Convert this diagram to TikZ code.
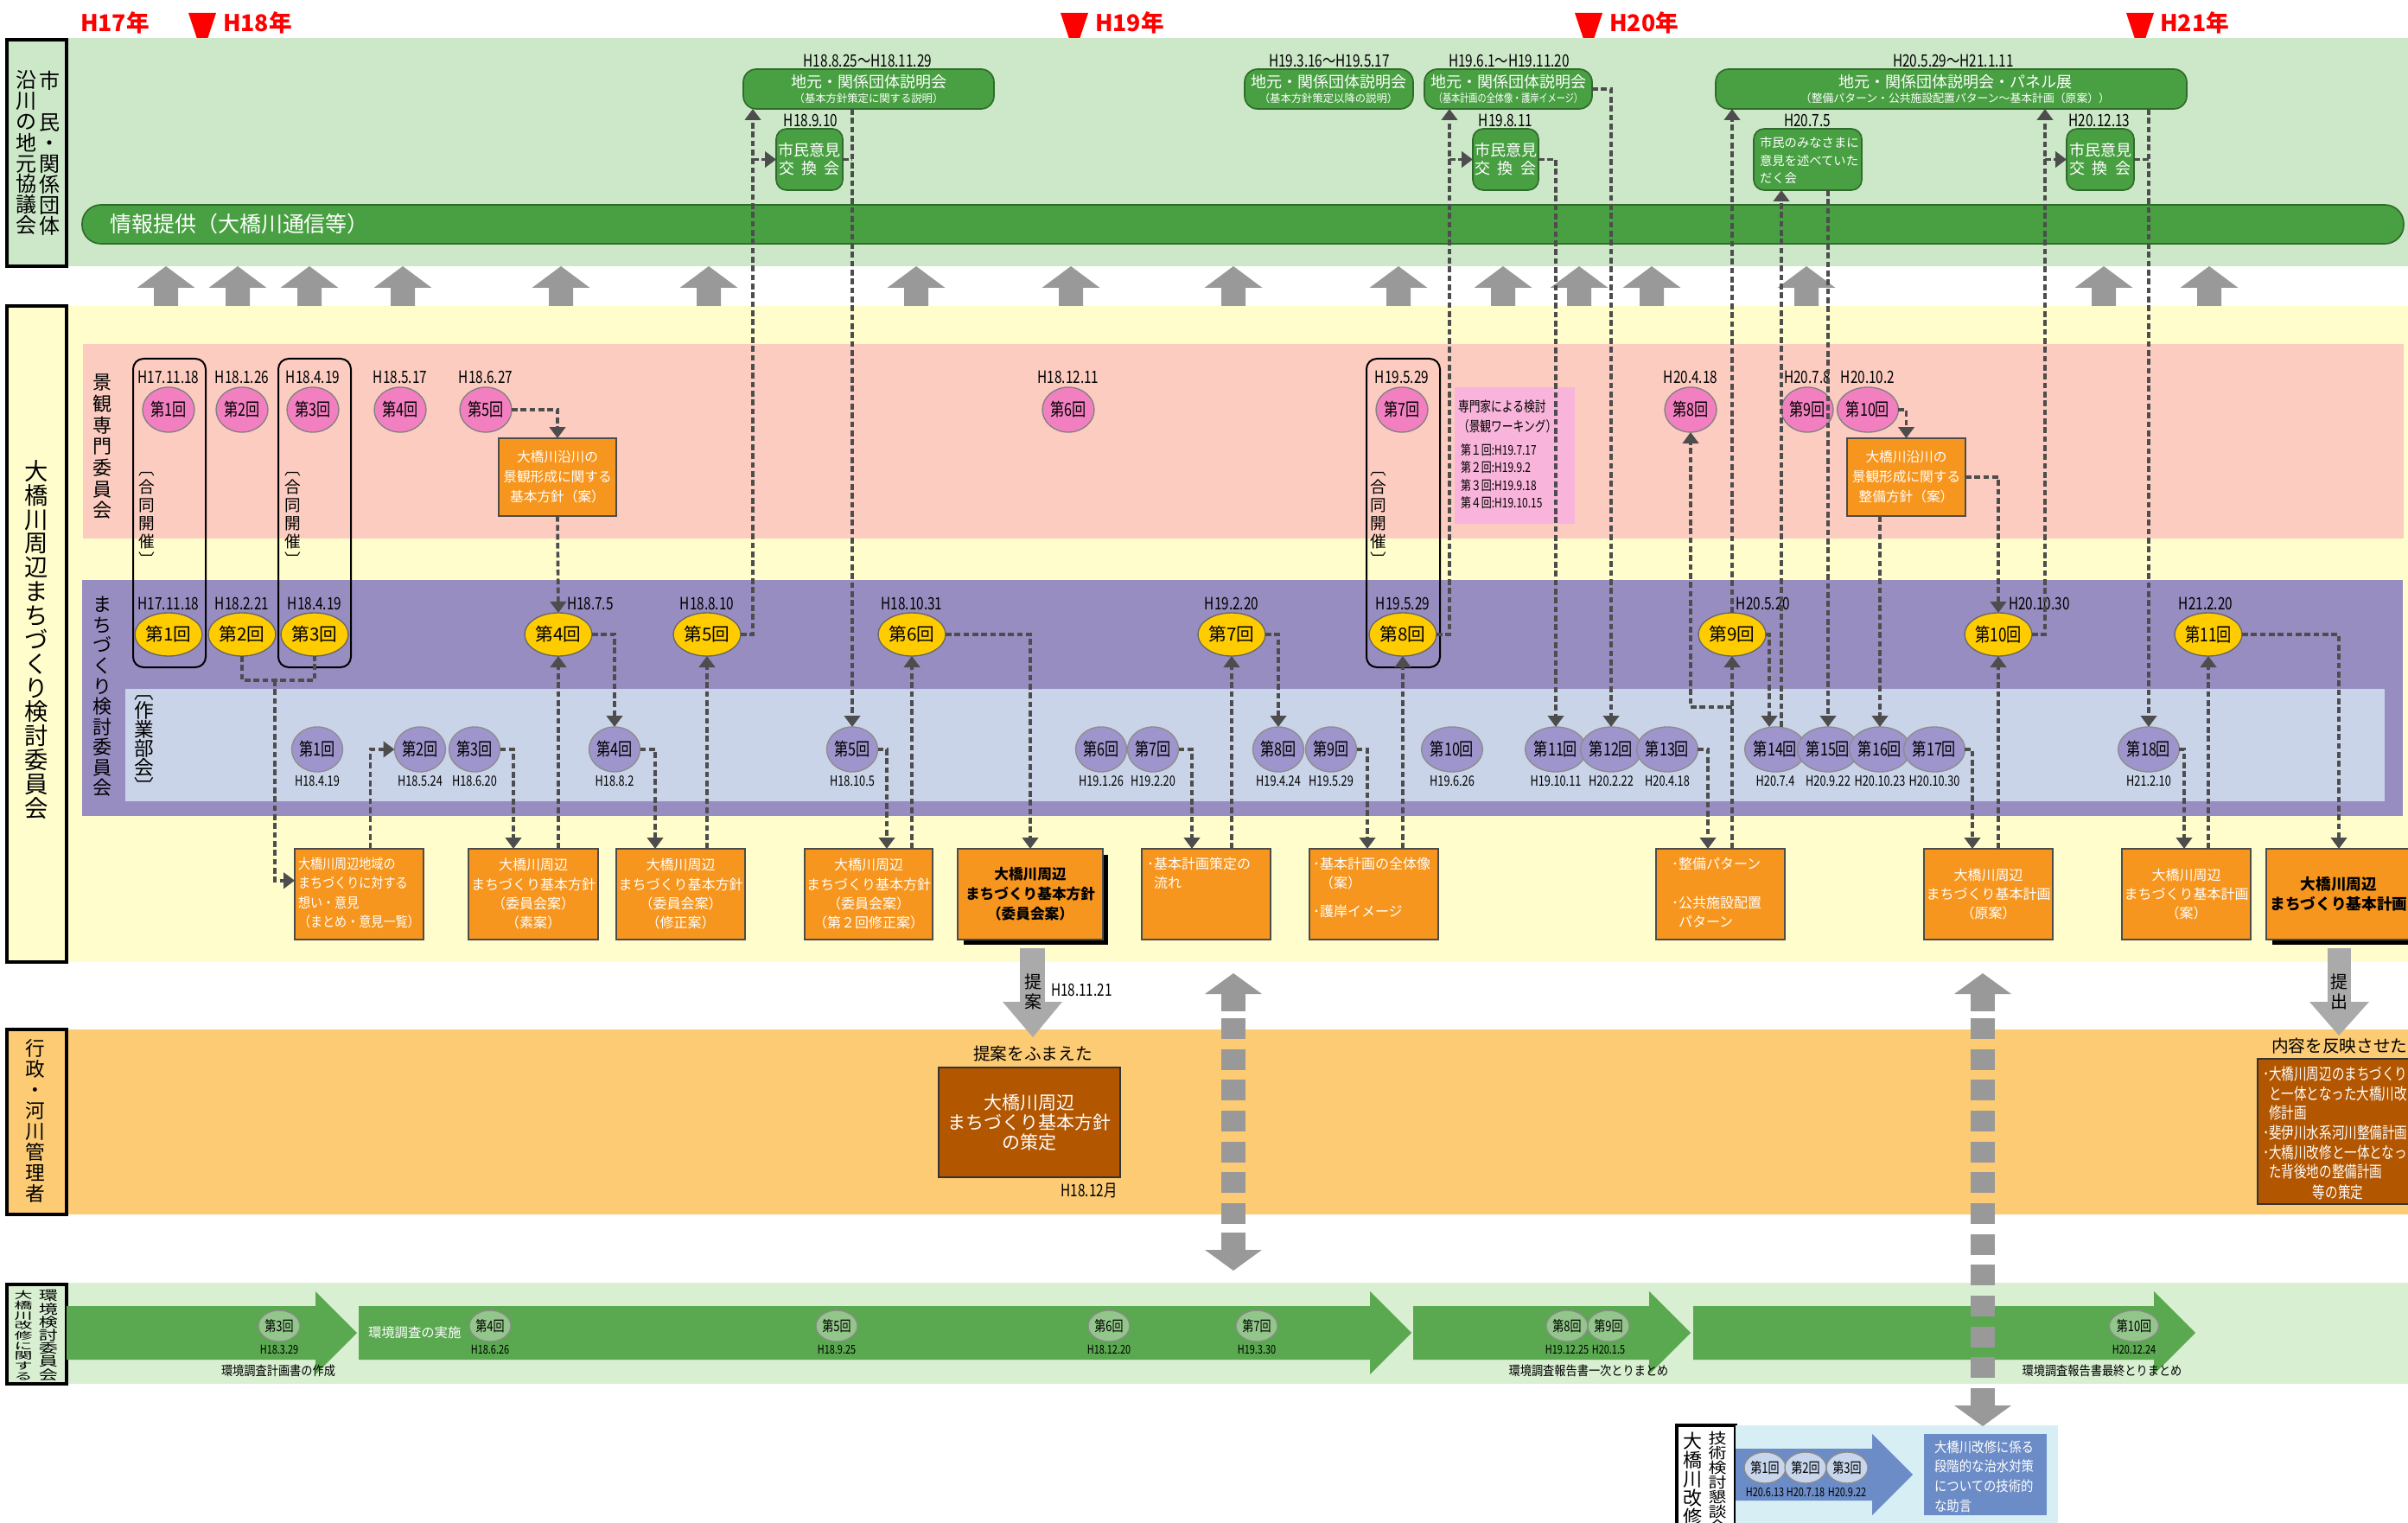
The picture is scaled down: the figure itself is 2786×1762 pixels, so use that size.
\documentclass[tikz,border=0pt]{standalone}
\usepackage{fontspec}
\usepackage{graphicx}
\usetikzlibrary{calc,arrows.meta,shapes.geometric}
\newfontfamily\jp{Noto Sans CJK JP}
\newfontfamily\jpc[FakeStretch=0.78]{Noto Sans CJK JP}
\newfontfamily\jpn[FakeStretch=0.88]{Noto Sans CJK JP}
\newcommand\setfz[2]{\fontsize{#1}{#2}\selectfont}
\lineskiplimit=-20pt
\definecolor{topgreen}{HTML}{CCE8C8}
\definecolor{dkgreen}{HTML}{48A042}
\definecolor{dkgreenb}{HTML}{2F6B2B}
\definecolor{ylbg}{HTML}{FFFDCC}
\definecolor{pinkband}{HTML}{FCCCC0}
\definecolor{pinkc}{HTML}{F280C0}
\definecolor{purband}{HTML}{978DC1}
\definecolor{wgband}{HTML}{CAD4E8}
\definecolor{wgc}{HTML}{9D95CB}
\definecolor{yel}{HTML}{FFCC00}
\definecolor{orng}{HTML}{F7961E}
\definecolor{admbg}{HTML}{FCCB74}
\definecolor{brn}{HTML}{B25600}
\definecolor{envbg}{HTML}{D8EFD2}
\definecolor{envband}{HTML}{5AA850}
\definecolor{envc}{HTML}{93C68A}
\definecolor{techbg}{HTML}{D7EEF5}
\definecolor{techband}{HTML}{6B8CC7}
\definecolor{techc}{HTML}{C7D6EC}
\definecolor{arrgray}{HTML}{999999}
\definecolor{propgray}{HTML}{AAAAAA}
\definecolor{lnk}{HTML}{4D4D4D}
\definecolor{wkpink}{HTML}{F8B4DA}
\newcommand\bx[7]{\node[#6, minimum width={(#4-#2)*0.3pt}, minimum height={(#5-#3)*0.3pt}] (#1) at ({(#2+#4)/2},{(#3+#5)/2}) {#7};}
\tikzset{
 box/.style={rectangle, inner sep=0pt, outer sep=0pt},
 hdr/.style={box, draw=black, line width=1.2pt},
 gbox/.style={box, draw=dkgreenb, fill=dkgreen, line width=0.5pt, rounded corners=4.5pt},
 exbox/.style={gbox, rounded corners=3.6pt, text=white, align=center, font=\jp\setfz{5.4}{6.3}},
 obox/.style={box, draw=black!70, fill=orng, line width=0.45pt, text=white, align=center, font=\jp\setfz{4.8}{6.7}},
 kbox/.style={obox, font=\jp\setfz{4.7}{6.9}},
 bbox/.style={obox, text=black, font=\jp\bfseries\setfz{5.3}{6.9}},
 brbox/.style={box, draw=black!80, fill=brn, line width=0.45pt, text=white, align=center, font=\jp\setfz{6.3}{6.9}},
 lbl/.style={inner sep=0pt, outer sep=0pt},
 otxt/.style={lbl, anchor=north west, align=left, text=white, font=\jp\setfz{4.8}{6.7}},
 dt/.style={lbl, font=\jpc\setfz{5.9}{5.9}},
 dts/.style={lbl, font=\jpc\setfz{4.9}{4.9}},
 dte/.style={lbl, font=\jpc\setfz{4.2}{4.2}},
 yr/.style={lbl, text=red, font=\jp\bfseries\setfz{8}{8}},
 circ/.style={ellipse, inner sep=0pt, outer sep=0pt, line width=0.4pt},
 pc/.style={circ, draw=black!50, fill=pinkc, minimum width=18pt, minimum height=15.6pt, font=\jpc\setfz{6.2}{6.2}},
 yc/.style={circ, draw=black!60, fill=yel, minimum width=23.4pt, minimum height=15pt, font=\jp\setfz{6.2}{6.2}},
 ycc/.style={yc, font=\jpc\setfz{6.6}{6.6}},
 wc/.style={circ, draw=black!45, fill=wgc, minimum width=17.7pt, minimum height=15.6pt, font=\jpc\setfz{6.2}{6.2}},
 ec/.style={circ, draw=black!45, fill=envc, minimum width=14.4pt, minimum height=10.8pt, font=\jpc\setfz{5}{5}},
 tcc/.style={ec, fill=techc},
 vt/.style={lbl, align=center},
 dl/.style={draw=lnk, line width=1.1pt, dash pattern=on 2pt off 1.1pt},
 dla/.style={dl, -{Triangle[width=5.5pt,length=3.9pt]}},
}
\begin{document}
\begin{tikzpicture}[x=0.3pt,y=-0.3pt]
\useasboundingbox (0,0) rectangle (2786,1762);
\fill[white] (0,0) rectangle (2786,1762);

% ---------- year markers
\foreach \cx in {234,1243,1838,2476} \fill[red] (\cx-16,15) -- (\cx+16,15) -- (\cx,63) -- cycle;
\node[yr] (y17) at (133,26) {H17年};
\node[yr] (y18) at (298,26) {H18年};
\node[yr] (y19) at (1307,26) {H19年};
\node[yr] (y20) at (1902,26) {H20年};
\node[yr] (y21) at (2539,26) {H21年};

% ---------- top section
\fill[topgreen] (77,44) rectangle (2786,308);
\bx{hdrA}{8}{46}{77}{308}{hdr, fill=topgreen}{}
\node[vt, font=\jp\setfz{7.2}{7.2}] (hdrAr) at (57,177) {市\\　\\民\\・\\関\\係\\団\\体};
\node[vt, font=\jp\setfz{7.2}{7.2}] (hdrAl) at (30,177) {沿\\川\\の\\地\\元\\協\\議\\会};
\bx{info}{95}{237}{2781}{282}{box, draw=dkgreenb, fill=dkgreen, line width=0.5pt, rounded corners=6.5pt}{}
\node[lbl, anchor=west, text=white, font=\jp\setfz{7.5}{7.5}] (infot) at (127,259) {情報提供（大橋川通信等）};

\bx{setA}{860}{80}{1150}{126}{gbox}{}
\node[lbl,text=white,font=\jp\setfz{5.4}{5.4}] (setAt) at (1005,95) {地元・関係団体説明会};
\node[lbl,text=white,font=\jp\setfz{3.7}{3.7}] (setAs) at (1005,114) {（基本方針策定に関する説明）};
\node[dt] (setAd) at (1004,70) {H18.8.25〜H18.11.29};
\bx{setB}{1440}{80}{1635}{126}{gbox}{}
\node[lbl,text=white,font=\jp\setfz{5.4}{5.4}] (setBt) at (1537,95) {地元・関係団体説明会};
\node[lbl,text=white,font=\jp\setfz{3.7}{3.7}] (setBs) at (1537,114) {（基本方針策定以降の説明）};
\node[dt] (setBd) at (1538,70) {H19.3.16〜H19.5.17};
\bx{setC}{1648}{80}{1842}{126}{gbox}{}
\node[lbl,text=white,font=\jp\setfz{5.4}{5.4}] (setCt) at (1745,95) {地元・関係団体説明会};
\node[lbl,text=white,font=\jpc\setfz{3.9}{3.9}] (setCs) at (1745,114) {（基本計画の全体像・護岸イメージ）};
\node[dt] (setCd) at (1746,70) {H19.6.1〜H19.11.20};
\bx{setD}{1985}{80}{2530}{126}{gbox}{}
\node[lbl,text=white,font=\jp\setfz{5.4}{5.4}] (setDt) at (2262,95) {地元・関係団体説明会・パネル展};
\node[lbl,text=white,font=\jp\setfz{3.85}{3.85}] (setDs) at (2262,114) {（整備パターン・公共施設配置パターン〜基本計画（原案））};
\node[dt] (setDd) at (2260,70) {H20.5.29〜H21.1.11};

\bx{ex1}{898}{149}{975}{220}{exbox}{市民意見\\交\hspace{0.45em}換\hspace{0.45em}会}
\node[dt] (ex1d) at (938,139) {H18.9.10};
\bx{ex2}{1704}{149}{1780}{220}{exbox}{市民意見\\交\hspace{0.45em}換\hspace{0.45em}会}
\node[dt] (ex2d) at (1742,139) {H19.8.11};
\bx{ex3}{2391}{149}{2469}{220}{exbox}{市民意見\\交\hspace{0.45em}換\hspace{0.45em}会}
\node[dt] (ex3d) at (2429,139) {H20.12.13};
\bx{mina}{2029}{149}{2154}{220}{gbox, rounded corners=3.6pt}{}
\node[lbl, anchor=west, align=left, text=white, font=\jp\setfz{4.3}{6.15}] (minat) at (2036,186) {市民のみなさまに\\意見を述べていた\\だく会};
\node[dt] (minad) at (2091,139) {H20.7.5};

% gray up arrows
\foreach \cx in {192,275,358,466,649,820,1060,1239,1427,1618,1739,1827,1911,2090,2434,2556}
 \fill[arrgray] (\cx-33.5,333) -- (\cx,308) -- (\cx+33.5,333) -- (\cx+14,333) -- (\cx+14,354) -- (\cx-14,354) -- (\cx-14,333) -- cycle;

% ---------- main committee section
\fill[ylbg] (77,354) rectangle (2786,1113);
\bx{hdrB}{8}{354}{77}{1113}{hdr, fill=ylbg}{}
\node[vt, font=\jp\setfz{8.2}{8.36}] (hdrBt) at (42,740) {大\\橋\\川\\周\\辺\\ま\\ち\\づ\\く\\り\\検\\討\\委\\員\\会};
\fill[pinkband] (96,398) rectangle (2781,623);
\node[vt, font=\jp\setfz{6.6}{7.4}] (ktit) at (118,517) {景\\観\\専\\門\\委\\員\\会};
\fill[purband] (95,671) rectangle (2780,944);
\node[vt, font=\jp\setfz{6.6}{7.07}] (mtit) at (118,806) {ま\\ち\\づ\\く\\り\\検\\討\\委\\員\\会};
\fill[wgband] (145,797) rectangle (2759,927);
\node[vt, font=\jp\setfz{6.8}{6.6}] (wtit) at (167,862) {︹\\作\\業\\部\\会\\︺};

\bx{jb1}{154}{415}{238}{772}{box, draw=black, line width=0.6pt, rounded corners=3.6pt}{}
\bx{jb2}{322}{415}{406}{772}{box, draw=black, line width=0.6pt, rounded corners=3.6pt}{}
\bx{jb3}{1581}{415}{1666}{772}{box, draw=black, line width=0.6pt, rounded corners=3.6pt}{}
\node[vt, font=\jp\setfz{5.6}{6.3}] (jb1t) at (170,600) {︹\\合\\同\\開\\催\\︺};
\node[vt, font=\jp\setfz{5.6}{6.3}] (jb2t) at (339,600) {︹\\合\\同\\開\\催\\︺};
\node[vt, font=\jp\setfz{5.6}{6.3}] (jb3t) at (1595,600) {︹\\合\\同\\開\\催\\︺};

\bx{wk}{1683}{448}{1822}{606}{box, fill=wkpink}{}
\node[lbl, anchor=west, align=left, font=\jpc\setfz{4.9}{6.9}] (wk1) at (1687,482) {専門家による検討\\（景観ワーキング）};
\node[lbl, anchor=west, align=left, font=\jpc\setfz{4.6}{6.15}] (wk2) at (1690,551) {第１回:H19.7.17\\第２回:H19.9.2\\第３回:H19.9.18\\第４回:H19.10.15};

% pink circles
\foreach \i/\cx/\dd in {1/195/H17.11.18, 2/280/H18.1.26, 3/362/H18.4.19, 4/463/H18.5.17, 5/562/H18.6.27, 6/1236/H18.12.11, 7/1622/H19.5.29, 8/1956/H20.4.18, 9/2091/H20.7.8, 10/2161/H20.10.2}
 {\node[pc] (k\i) at (\cx,474) {第\i 回}; \node[dt] (dk\i) at (\cx,436) {\dd};}

% yellow ellipses
\foreach \i/\cx/\dd in {1/195/H17.11.18, 2/280/H18.2.21, 3/364/H18.4.19, 5/818/H18.8.10, 6/1055/H18.10.31, 7/1425/H19.2.20, 8/1623/H19.5.29}
 {\node[yc] (m\i) at (\cx,734) {第\i 回}; \node[dt] (dm\i) at (\cx,698) {\dd};}
\node[yc] (m4) at (646,734) {第4回};
\node[dt, anchor=west] (dm4) at (656,698) {H18.7.5};
\node[yc] (m9) at (2004,734) {第9回};
\node[dt] (dm9) at (2040,698) {H20.5.20};
\node[ycc] (m10) at (2312,734) {第10回};
\node[dt, anchor=west] (dm10) at (2324,698) {H20.10.30};
\node[ycc] (m11) at (2555,734) {第11回};
\node[dt] (dm11) at (2552,698) {H21.2.20};

% working group circles
\foreach \i/\cx/\dd in {1/367/H18.4.19, 2/486/H18.5.24, 3/549/H18.6.20, 4/711/H18.8.2, 5/986/H18.10.5, 6/1274/H19.1.26, 7/1334/H19.2.20, 8/1479/H19.4.24, 9/1540/H19.5.29, 10/1680/H19.6.26, 11/1800/H19.10.11, 12/1864/H20.2.22, 13/1929/H20.4.18, 14/2054/H20.7.4, 15/2115/H20.9.22, 16/2175/H20.10.23, 17/2238/H20.10.30, 18/2486/H21.2.10}
 {\node[wc] (w\i) at (\cx,867) {第\i 回}; \node[dts] (dw\i) at (\cx,904) {\dd};}

% orange boxes
\bx{kb1}{577}{507}{713}{597}{kbox}{大橋川沿川の\\景観形成に関する\\基本方針（案）}
\bx{kb2}{2137}{507}{2274}{597}{kbox}{大橋川沿川の\\景観形成に関する\\整備方針（案）}
\bx{o1}{341}{982}{490}{1087}{obox}{}
\node[otxt, font=\jpn\setfz{4.8}{6.7}] (o1t) at (345,992) {大橋川周辺地域の\\まちづくりに対する\\想い・意見\\（まとめ・意見一覧）};
\bx{o2}{542}{982}{692}{1087}{obox}{大橋川周辺\\まちづくり基本方針\\（委員会案）\\（素案）}
\bx{o3}{713}{982}{862}{1087}{obox}{大橋川周辺\\まちづくり基本方針\\（委員会案）\\（修正案）}
\bx{o4}{931}{982}{1079}{1087}{obox}{大橋川周辺\\まちづくり基本方針\\（委員会案）\\（第２回修正案）}
\fill[black] (1115,989) rectangle (1282,1093);
\bx{o5}{1108}{982}{1276}{1087}{bbox, font=\jp\bfseries\setfz{5.0}{6.9}}{大橋川周辺\\まちづくり基本方針\\（委員会案）}
\bx{o6}{1321}{982}{1470}{1087}{obox}{}
\node[otxt] (o6t) at (1327,992) {･基本計画策定の\\\phantom{･}流れ};
\bx{o7}{1515}{982}{1664}{1087}{obox}{}
\node[otxt] (o7t) at (1519,992) {･基本計画の全体像\\\phantom{･}（案）\\[3pt]･護岸イメージ};
\bx{o8}{1916}{982}{2065}{1087}{obox}{}
\node[otxt] (o8t) at (1934,992) {･整備パターン\\[6.7pt]･公共施設配置\\\phantom{･}パターン};
\bx{o10}{2226}{982}{2375}{1087}{obox}{大橋川周辺\\まちづくり基本計画\\（原案）}
\bx{o11}{2455}{982}{2604}{1087}{obox}{大橋川周辺\\まちづくり基本計画\\（案）}
\fill[black] (2629,989) rectangle (2800,1093);
\bx{o12}{2622}{982}{2790}{1087}{bbox}{大橋川周辺\\まちづくり基本計画}

% ---------- dashed connectors
\draw[dla] (k5.east) -| (kb1.north);
\draw[dla] (kb1.south) -- (m4.north);
\draw[dl] (m2.south) -- ++(0,28) -| (m3.south);
\draw[dla] ($(m2.south)!0.45!(m3.south)+(0,28)$) |- ($(o1.north west)!0.35!(o1.south west)$);
\draw[dla] ($(o1.north)+(13,0)$) |- (w2.west);
\draw[dla] (w3.east) -| ($(o2.north)+(-23,0)$);
\draw[dla] (o2.north -| m4.south) -- (m4.south);
\draw[dla] (m4.east) -| (w4.north);
\draw[dla] (w4.east) -| ($(o3.north)+(-29.5,0)$);
\draw[dla] (o3.north -| m5.south) -- (m5.south);
\draw[dla] (m5.east) -- ++(14,0) coordinate (t5) -- (t5 |- setA.south);
\draw[dla] (t5 |- ex1.west) -- (ex1.west);
\draw[dl] (ex1.east) -- (ex1.east -| w5.north);
\draw[dla] (setA.south -| w5.north) -- (w5.north);
\draw[dla] (w5.east) -| ($(o4.north)+(21,0)$);
\draw[dla] (o4.north -| m6.south) -- (m6.south);
\draw[dla] (m6.east) -| (o5.north);
\draw[dla] (w7.east) -| ($(o6.north)+(-16.5,0)$);
\draw[dla] (o6.north -| m7.south) -- (m7.south);
\draw[dla] (m7.east) -| (w8.north);
\draw[dla] (w9.east) -| ($(o7.north)+(-7.5,0)$);
\draw[dla] (o7.north -| m8.south) -- (m8.south);
\draw[dla] (m8.east) -- ++(15,0) coordinate (t8) -- (t8 |- setC.south);
\draw[dla] (t8 |- ex2.west) -- (ex2.west);
\draw[dla] (ex2.east) -| (w11.north);
\draw[dla] (setC.east) -| (w12.north);
\draw[dla] (w13.east) -| ($(o8.north)+(-14.5,0)$);
\draw[dla] (o8.north -| m9.south) -- (m9.south);
\draw[dla] ($(m9.south)+(0,59)$) -| (k8.south);
\draw[dla] (m9.north) -- (m9.north |- setD.south);
\draw[dla] (m9.east) -| ($(w14.north)+(-7,0)$);
\coordinate (w14r) at ($(w14.north)+(7,0)$);
\draw[dla] (w14r) -- (w14r |- mina.south);
\draw[dla] (mina.south -| w15.north) -- (w15.north);
\draw[dla] (k10.east) -| (kb2.north);
\draw[dla] (kb2.east) -| (m10.north);
\draw[dla] (kb2.south -| w16.north) -- (w16.north);
\draw[dla] (w17.east) -| ($(o10.north)+(-18.5,0)$);
\draw[dla] (o10.north -| m10.south) -- (m10.south);
\draw[dla] (m10.east) -- ++(15,0) coordinate (t10) -- (t10 |- setD.south);
\draw[dla] (t10 |- ex3.west) -- (ex3.west);
\draw[dl] (ex3.east) -- (ex3.east -| w18.north);
\draw[dla] (setD.south -| w18.north) -- (w18.north);
\draw[dla] (w18.east) -| ($(o11.north)+(-2.5,0)$);
\draw[dla] (o11.north -| m11.south) -- (m11.south);
\draw[dla] (m11.east) -| (o12.north);

% ---------- administration section
\fill[admbg] (77,1191) rectangle (2786,1405);
\bx{hdrC}{8}{1191}{77}{1405}{hdr, fill=admbg}{}
\node[vt, font=\jp\setfz{6.8}{7.2}] (hdrCt) at (41,1297) {行\\政\\・\\河\\川\\管\\理\\者};
\node[lbl, font=\jp\setfz{5.9}{5.9}] (bb1h) at (1195,1219) {提案をふまえた};
\bx{bb1}{1086}{1235}{1296}{1362}{brbox}{大橋川周辺\\まちづくり基本方針\\の策定}
\node[dt] (bb1d) at (1260,1378) {H18.12月};
\node[lbl, anchor=west, font=\jp\setfz{5.9}{5.9}] (bb2h) at (2628,1210) {内容を反映させた};
\bx{bb2}{2612}{1225}{2800}{1393}{brbox}{}
\node[lbl, anchor=west, align=left, text=white, font=\jpc\setfz{5.6}{6.8}] (bb2t) at (2618,1299) {･大橋川周辺のまちづくり\\\phantom{･}と一体となった大橋川改\\\phantom{･}修計画\\･斐伊川水系河川整備計画\\･大橋川改修と一体となっ\\\phantom{･}た背後地の整備計画};
\node[lbl, text=white, font=\jpc\setfz{5.6}{5.6}] (bb2e) at (2705,1379) {等の策定};

% proposal / submission arrows
\fill[propgray] (1180,1097) rectangle (1209,1160);
\fill[propgray] (1160,1159) -- (1229,1159) -- (1195,1200) -- cycle;
\node[vt, font=\jp\setfz{6}{6.9}] (teian) at (1195,1147) {提\\案};
\node[dt, anchor=west] (teiand) at (1216,1145) {H18.11.21};
\fill[propgray] (2693,1097) rectangle (2720,1160);
\fill[propgray] (2672,1159) -- (2741,1159) -- (2706,1198) -- cycle;
\node[vt, font=\jp\setfz{6}{6.9}] (teishutsu) at (2706,1147) {提\\出};

% ---------- environment committee section
\fill[envbg] (77,1484) rectangle (2786,1601);
\bx{hdrD}{8}{1486}{77}{1601}{hdr, fill=envbg}{}
\node[lbl] (hdrDr) at (56,1545) {\scalebox{1}[0.69]{\parbox{8pt}{\centering\jp\setfz{6.6}{6.6}環\\境\\検\\討\\委\\員\\会}}};
\node[lbl] (hdrDl) at (27,1545) {\scalebox{1}[0.53]{\parbox{8pt}{\centering\jp\setfz{6.3}{6.6}大\\橋\\川\\改\\修\\に\\関\\す\\る}}};
\fill[envband] (77,1511) -- (365,1511) -- (365,1494) -- (413,1542) -- (365,1590) -- (365,1573) -- (77,1573) -- cycle;
\fill[envband] (415,1511) -- (1585,1511) -- (1585,1494) -- (1633,1542) -- (1585,1590) -- (1585,1573) -- (415,1573) -- cycle;
\fill[envband] (1635,1511) -- (1908,1511) -- (1908,1494) -- (1956,1542) -- (1908,1590) -- (1908,1573) -- (1635,1573) -- cycle;
\fill[envband] (1959,1511) -- (2492,1511) -- (2492,1494) -- (2540,1542) -- (2492,1590) -- (2492,1573) -- (1959,1573) -- cycle;
\foreach \i/\cx/\dd in {3/323/H18.3.29, 4/567/H18.6.26, 5/968/H18.9.25, 6/1283/H18.12.20, 7/1454/H19.3.30, 8/1813/H19.12.25, 9/1861/H20.1.5, 10/2469/H20.12.24}
 {\node[ec] (e\i) at (\cx,1534) {第\i 回}; \node[dte] (de\i) at (\cx,1561) {\dd};}
\node[lbl, anchor=west, text=white, font=\jp\setfz{4.6}{4.6}] (env1) at (426,1542) {環境調査の実施};
\node[lbl, font=\jpn\setfz{4.5}{4.5}] (env2) at (322,1586) {環境調査計画書の作成};
\node[lbl, font=\jpn\setfz{4.5}{4.5}] (env3) at (1838,1586) {環境調査報告書一次とりまとめ};
\node[lbl, font=\jpn\setfz{4.5}{4.5}] (env4) at (2432,1586) {環境調査報告書最終とりまとめ};

% ---------- technical council section
\bx{hdrE}{1940}{1649}{2008}{1775}{hdr, fill=white}{}
\fill[techbg] (2008,1649) rectangle (2381,1762);
\node[lbl] (hdrEr) at (1987,1715) {\scalebox{1}[0.81]{\parbox{8pt}{\centering\jp\setfz{6.3}{6.3}技\\術\\検\\討\\懇\\談\\会}}};
\node[lbl] (hdrEl) at (1958,1711) {\parbox{8pt}{\centering\jp\setfz{6.6}{6.6}大\\橋\\川\\改\\修}};
\fill[techband] (2008,1676) -- (2166,1676) -- (2166,1659) -- (2213,1706) -- (2166,1753) -- (2166,1736) -- (2008,1736) -- cycle;
\foreach \i/\cx/\dd in {1/2042/H20.6.13, 2/2089/H20.7.18, 3/2137/H20.9.22}
 {\node[tcc] (tc\i) at (\cx,1698) {第\i 回}; \node[dte] (dtc\i) at (\cx,1726) {\dd};}
\bx{tbox}{2226}{1659}{2368}{1753}{box, fill=techband}{}
\node[lbl, anchor=west, align=left, text=white, font=\jpn\setfz{4.9}{6.8}] (tboxt) at (2238,1708) {大橋川改修に係る\\段階的な治水対策\\についての技術的\\な助言};

% ---------- dashed double arrows
\foreach \cx/\yb in {1427/1446, 2294/1626} {
 \fill[arrgray] (\cx-33,1150) -- (\cx,1126) -- (\cx+33,1150) -- cycle;
 \fill[arrgray] (\cx-14,1149) rectangle (\cx+14,1170);
 \draw[arrgray, line width=8.4pt, dash pattern=on 7.2pt off 3.5pt] (\cx,1178) -- (\cx,\yb-22);
 \fill[arrgray] (\cx-14,\yb-20) rectangle (\cx+14,\yb+1);
 \fill[arrgray] (\cx-33,\yb) -- (\cx,\yb+24) -- (\cx+33,\yb) -- cycle;
}
\end{tikzpicture}
\end{document}
